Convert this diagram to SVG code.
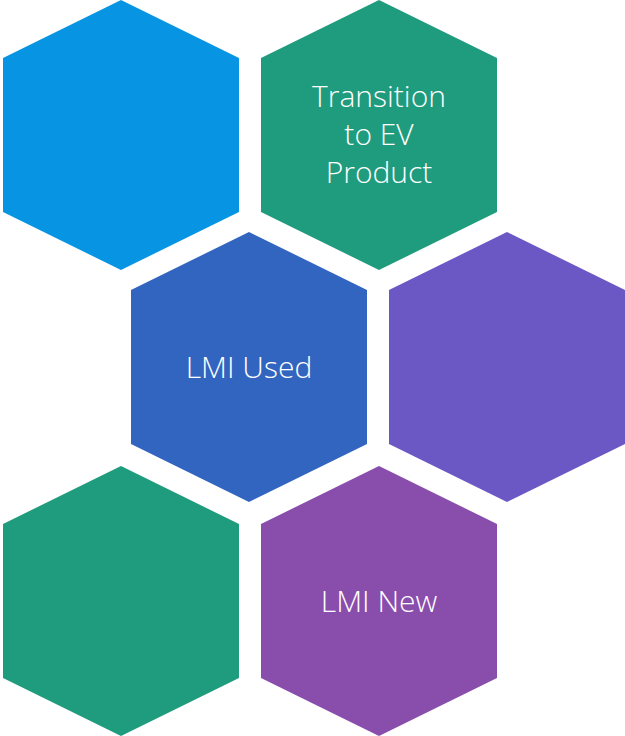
<svg xmlns="http://www.w3.org/2000/svg" width="625" height="736" viewBox="0 0 625 736">
<style>
.lbl{font-family:"Open Sans","Liberation Sans",sans-serif;font-weight:300;font-size:30px;fill:#ffffff;text-anchor:middle}
</style>
<defs>
<polygon id="hex" points="0,0 118,58 118,212 0,270 -118,212 -118,58"/>
</defs>
<rect width="625" height="736" fill="#ffffff"/>
<g id="hex1"><use href="#hex" x="121" y="0" fill="#0795E3"/></g>
<g id="hex2"><use href="#hex" x="379" y="0" fill="#1F9B7E"/>
<text class="lbl" x="379" y="107">Transition</text>
<text class="lbl" x="379" y="145">to EV</text>
<text class="lbl" x="379" y="183">Product</text></g>
<g id="hex3"><use href="#hex" x="249" y="232" fill="#3165BF"/>
<text class="lbl" x="249" y="378">LMI Used</text></g>
<g id="hex4"><use href="#hex" x="507" y="232" fill="#6C58C4"/></g>
<g id="hex5"><use href="#hex" x="121" y="466" fill="#1F9B7E"/></g>
<g id="hex6"><use href="#hex" x="379" y="466" fill="#894DAC"/>
<text class="lbl" x="379" y="612">LMI New</text></g>
<g id="connectors"></g>
</svg>
